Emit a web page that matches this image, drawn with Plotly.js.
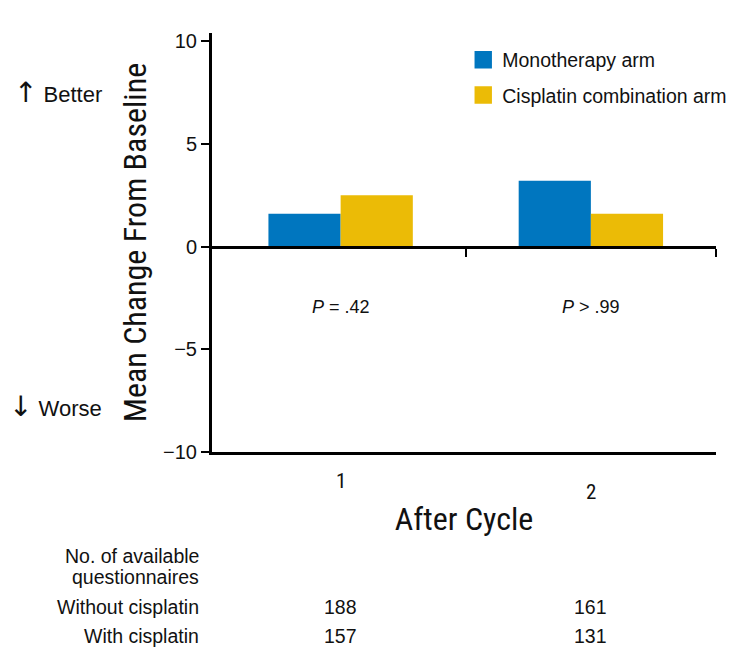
<!DOCTYPE html>
<html>
<head>
<meta charset="utf-8">
<script src="https://cdn.plot.ly/plotly-3.0.1.min.js"></script>
<style>
html,body{margin:0;padding:0;background:#fff}
#chart{width:744px;height:658px}
#chart .legendpoints path{transform:translate(21px,0px) scale(1.45)}
</style>
</head>
<body>
<div id="chart"></div>
<script>
var cycles = [1, 2];
var cycleLabels = ['1', '2'];
var monotherapy = [1.6, 3.2];
var cisplatinCombo = [2.5, 1.6];
var pValues = ['<i>P</i> = .42', '<i>P</i> > .99'];
var withoutCisplatinN = ['188', '161'];
var withCisplatinN = ['157', '131'];
var yTicks = [-10, -5, 0, 5, 10];

var NARROW = '"Liberation Sans Narrow", "Arial Narrow", "Roboto Condensed", "Liberation Sans", sans-serif';
var SANS = '"Liberation Sans", Arial, Helvetica, sans-serif';
var INK = '#111';

var traces = [
  {type: 'bar', name: 'Monotherapy arm', x: cycles, y: monotherapy,
   marker: {color: '#0076BF'}, legendgroup: 'a', hoverinfo: 'y'},
  {type: 'bar', name: 'Cisplatin combination arm', x: cycles, y: cisplatinCombo,
   marker: {color: '#EBBB06'}, legendgroup: 'b', hoverinfo: 'y'},
  // invisible helper so the bottom frame axis is drawn
  {type: 'scatter', mode: 'markers', x: cycles, y: monotherapy, xaxis: 'x2', yaxis: 'y',
   marker: {opacity: 0}, showlegend: false, hoverinfo: 'skip'}
];

var annotations = [];
function ann(text, x, y, opts) {
  var a = {text: text, x: x, y: y, xref: 'x', yref: 'paper', showarrow: false,
           font: {family: SANS, size: 19.5, color: INK}, xanchor: 'center', yanchor: 'middle'};
  for (var k in opts) a[k] = opts[k];
  annotations.push(a);
}
// category labels (the second one sits lower in the original)
ann(cycleLabels[0], cycles[0], -0.069, {font: {family: NARROW, size: 21, color: INK}});
ann(cycleLabels[1], cycles[1], -0.095, {font: {family: NARROW, size: 21, color: INK}});
for (var i = 0; i < cycles.length; i++) {
  ann(pValues[i], cycles[i], 0.346, {font: {family: SANS, size: 18, color: INK}});
  ann(withoutCisplatinN[i], cycles[i], -0.370, {});
  ann(withCisplatinN[i], cycles[i], -0.439, {});
}
function leftAnn(text, y, opts) {
  var a = {text: text, x: -0.0216, y: y, xref: 'paper', yref: 'paper', showarrow: false,
           xanchor: 'right', yanchor: 'middle', font: {family: SANS, size: 19.5, color: INK}};
  for (var k in opts) a[k] = opts[k];
  annotations.push(a);
}
leftAnn('No. of available', -0.248);
leftAnn('questionnaires', -0.298);
leftAnn('Without cisplatin', -0.370);
leftAnn('With cisplatin', -0.439);
var ARROW = '<span style="font-family:DejaVu Sans;font-size:28px">';
leftAnn(ARROW + '\u2191</span> Better', 0.857, {x: -0.2137, font: {family: SANS, size: 22, color: INK}});
leftAnn(ARROW + '\u2193</span> Worse', 0.108, {x: -0.2137, font: {family: SANS, size: 22, color: INK}});

var layout = {
  width: 744, height: 658,
  margin: {l: 212, r: 22, t: 33, b: 206, pad: 0},
  paper_bgcolor: '#fff', plot_bgcolor: '#fff',
  barmode: 'group', bargap: 0.423, bargroupgap: 0,
  showlegend: true,
  legend: {x: 0.4965, y: 0.982, xanchor: 'left', yanchor: 'top',
           font: {family: SANS, size: 19.5, color: INK},
           traceorder: 'grouped', tracegroupgap: 7, bgcolor: 'rgba(0,0,0,0)'},
  xaxis: {type: 'linear', range: [0.486, 2.5], anchor: 'free', position: 0.4904,
          showline: true, linecolor: '#000', linewidth: 3, showgrid: false, zeroline: false,
          ticks: 'outside', tickvals: [1.5, 2.5], ticklen: 8, tickwidth: 2, tickcolor: '#000',
          showticklabels: false, fixedrange: true},
  xaxis2: {type: 'linear', range: [0.486, 2.5], overlaying: 'x', anchor: 'y', side: 'bottom',
           showline: true, linecolor: '#000', linewidth: 3, showgrid: false, zeroline: false,
           ticks: '', showticklabels: false,
           title: {text: 'After Cycle', font: {family: NARROW, size: 32, color: INK}, standoff: 54}},
  yaxis: {range: [-10, 10.39], tickvals: yTicks, ticks: 'outside', ticklen: 8, tickwidth: 2,
          tickcolor: '#000', showline: true, linecolor: '#000', linewidth: 3, showgrid: false,
          zeroline: false, tickfont: {family: SANS, size: 20, color: INK},
          title: {text: 'Mean Change From Baseline', font: {family: NARROW, size: 32, color: INK}, standoff: 7}},
  annotations: annotations
};

Plotly.newPlot('chart', traces, layout, {displayModeBar: false, staticPlot: true});
</script>
</body>
</html>
